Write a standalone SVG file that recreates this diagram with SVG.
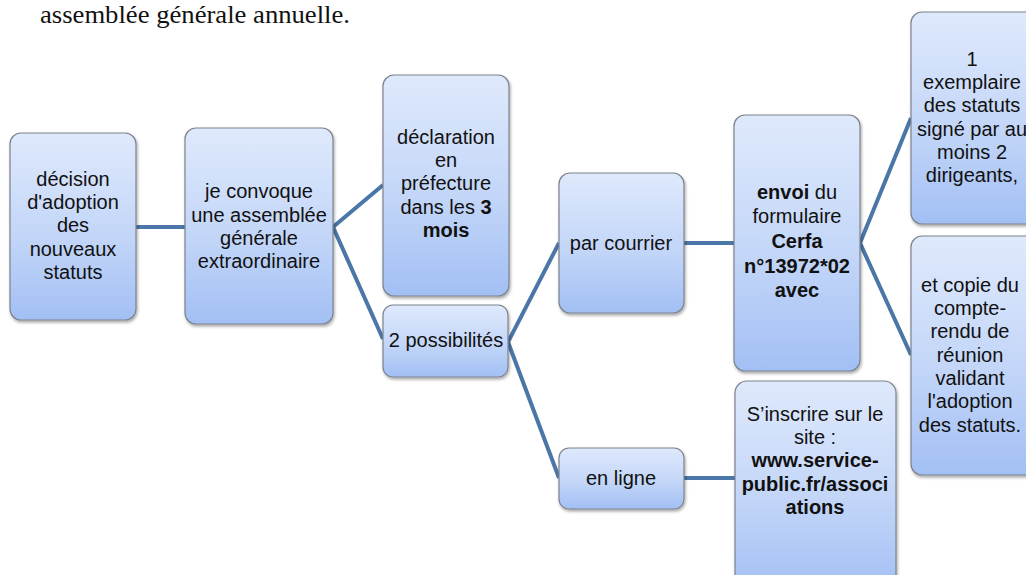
<svg xmlns="http://www.w3.org/2000/svg" width="1026" height="575" viewBox="0 0 1026 575">
  <defs>
    <linearGradient id="boxGrad" x1="0" y1="0" x2="0" y2="1">
      <stop offset="0" stop-color="#dfe9fc"/>
      <stop offset="0.55" stop-color="#c3d6f8"/>
      <stop offset="1" stop-color="#a2bff4"/>
    </linearGradient>
    <filter id="shadow" x="-10%" y="-10%" width="130%" height="130%">
      <feDropShadow dx="1" dy="2" stdDeviation="1.5" flood-color="#000" flood-opacity="0.35"/>
    </filter>
  </defs>
  <style>
    .box { fill: url(#boxGrad); stroke: #7d838e; stroke-width: 1.2; filter: url(#shadow); }
    .t { font-family: "Liberation Sans", Arial, sans-serif; font-size: 20px; fill: #111; text-anchor: middle; }
    .b { font-weight: bold; }
    .conn { stroke: #4a76a8; stroke-width: 4; fill: none; stroke-linejoin: round; }
    .head { font-family: "Liberation Serif", "Times New Roman", serif; font-size: 25px; fill: #111; }
  </style>

  <rect width="1026" height="575" fill="#ffffff"/>

  <text class="head" x="40" y="23" textLength="310" lengthAdjust="spacingAndGlyphs">assemblée générale annuelle.</text>

  <g id="connectors">
    <line class="conn" x1="136" y1="227" x2="185" y2="227"/>
    <polyline class="conn" points="383,185 333,227 383,339"/>
    <polyline class="conn" points="559,243 508,342 559,478"/>
    <line class="conn" x1="684" y1="243" x2="734" y2="243"/>
    <polyline class="conn" points="911,118 860,243 911,355"/>
    <line class="conn" x1="684" y1="478" x2="735" y2="478"/>
  </g>

  <g id="node-decision">
    <rect class="box" x="10" y="133" width="126" height="187" rx="11"/>
    <text class="t" x="73" y="186">décision</text>
    <text class="t" x="73" y="209">d'adoption</text>
    <text class="t" x="73" y="232">des</text>
    <text class="t" x="73" y="256">nouveaux</text>
    <text class="t" x="73" y="279">statuts</text>
  </g>

  <g id="node-convoque">
    <rect class="box" x="185" y="128" width="148" height="196" rx="11"/>
    <text class="t" x="259" y="198">je convoque</text>
    <text class="t" x="259" y="222">une assemblée</text>
    <text class="t" x="259" y="245">générale</text>
    <text class="t" x="259" y="268">extraordinaire</text>
  </g>

  <g id="node-declaration">
    <rect class="box" x="383" y="75" width="126" height="221" rx="11"/>
    <text class="t" x="446" y="144">déclaration</text>
    <text class="t" x="446" y="167">en</text>
    <text class="t" x="446" y="190">préfecture</text>
    <text class="t" x="446" y="214">dans les <tspan class="b">3</tspan></text>
    <text class="t b" x="446" y="237">mois</text>
  </g>

  <g id="node-possibilites">
    <rect class="box" x="383" y="305" width="125" height="72" rx="10"/>
    <text class="t" x="446" y="347">2 possibilités</text>
  </g>

  <g id="node-courrier">
    <rect class="box" x="559" y="173" width="125" height="140" rx="11"/>
    <text class="t" x="621" y="250">par courrier</text>
  </g>

  <g id="node-envoi">
    <rect class="box" x="734" y="115" width="126" height="256" rx="11"/>
    <text class="t" x="797" y="199"><tspan class="b">envoi</tspan> du</text>
    <text class="t" x="797" y="223">formulaire</text>
    <text class="t b" x="797" y="248">Cerfa</text>
    <text class="t b" x="797" y="273">n°13972*02</text>
    <text class="t b" x="797" y="297">avec</text>
  </g>

  <g id="node-exemplaire">
    <rect class="box" x="911" y="12" width="126" height="212" rx="11"/>
    <text class="t" x="972" y="66">1</text>
    <text class="t" x="972" y="89">exemplaire</text>
    <text class="t" x="972" y="112">des statuts</text>
    <text class="t" x="972" y="136">signé par au</text>
    <text class="t" x="972" y="159">moins 2</text>
    <text class="t" x="972" y="182">dirigeants,</text>
  </g>

  <g id="node-copie">
    <rect class="box" x="911" y="236" width="126" height="239" rx="11"/>
    <text class="t" x="970" y="292">et copie du</text>
    <text class="t" x="970" y="315">compte-</text>
    <text class="t" x="970" y="338">rendu de</text>
    <text class="t" x="970" y="362">réunion</text>
    <text class="t" x="970" y="385">validant</text>
    <text class="t" x="970" y="408">l'adoption</text>
    <text class="t" x="970" y="432">des statuts.</text>
  </g>

  <g id="node-enligne">
    <rect class="box" x="559" y="448" width="125" height="61" rx="10"/>
    <text class="t" x="621" y="485">en ligne</text>
  </g>

  <g id="node-inscrire">
    <rect class="box" x="735" y="381" width="161" height="212" rx="12"/>
    <text class="t" x="815" y="421">S’inscrire sur le</text>
    <text class="t" x="815" y="444">site :</text>
    <text class="t b" x="815" y="467">www.service-</text>
    <text class="t b" x="815" y="491">public.fr/associ</text>
    <text class="t b" x="815" y="514">ations</text>
  </g>
</svg>
